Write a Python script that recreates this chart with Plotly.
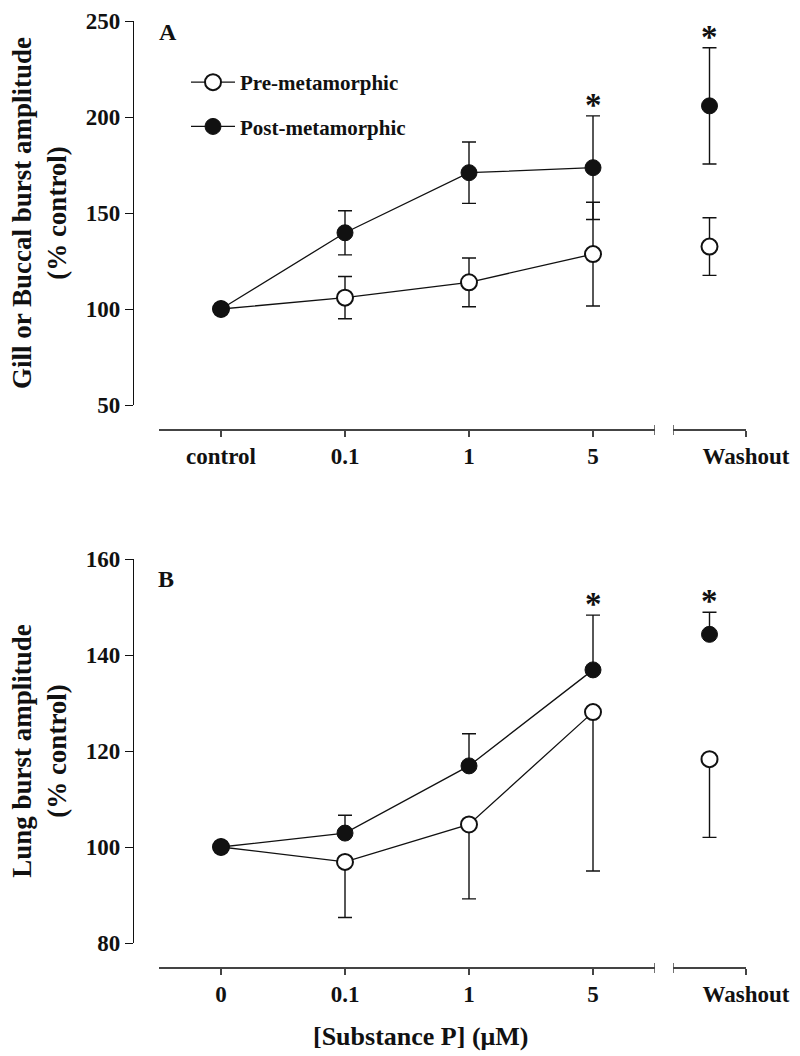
import plotly.graph_objects as go

# ---------------- data ----------------
doses_A = ["control", "0.1", "1", "5"]
doses_B = ["0", "0.1", "1", "5"]
washout_label = "Washout"

pre_A = [100, 105.9, 113.9, 128.6]
pre_A_sem = [0, 11.0, 12.7, 27.0]
pre_A_wash = [132.5]
pre_A_wash_sem = [15.0]
post_A = [100, 139.7, 171.0, 173.6]
post_A_sem = [0, 11.5, 16.0, 27.0]
post_A_wash = [205.8]
post_A_wash_sem = [30.3]

pre_B = [100, 96.9, 104.7, 128.1]
pre_B_sem = [0, 11.6, 15.5, 33.1]
pre_B_wash = [118.3]
pre_B_wash_sem = [16.3]
post_B = [100, 102.9, 116.9, 136.9]
post_B_sem = [0, 3.7, 6.7, 11.4]
post_B_wash = [144.3]
post_B_wash_sem = [4.6]

sig_index = 3  # the "5" dose carries an asterisk in both panels

# ---------------- geometry helpers ----------------
W, H = 800, 1056
def px(p):
    return p / W
def py(p):
    return 1 - p / H

FONT = "Liberation Serif"
BLACK = "#111111"
AXC = "#444444"

fig = go.Figure()

def add_series(x, y, err, errm, xa, ya, filled, name=None, show=False, group=None, mode="lines+markers"):
    marker = dict(size=16, color=BLACK if filled else "white",
                  line=dict(color=BLACK, width=2 if not filled else 1))
    if errm is None:
        ey = dict(type="data", array=err, visible=True, color=BLACK, thickness=1.4, width=7)
    else:
        ey = dict(type="data", symmetric=False, array=err, arrayminus=errm,
                  visible=True, color=BLACK, thickness=1.4, width=7)
    fig.add_trace(go.Scatter(
        x=x, y=y, mode=mode, xaxis=xa, yaxis=ya,
        line=dict(color=BLACK, width=1.3), marker=marker, error_y=ey,
        name=name, showlegend=show, legendgroup=group, cliponaxis=False))

# Panel A
add_series(doses_A, pre_A, pre_A_sem, None, "x", "y", False, "Pre-metamorphic", True, "pre")
add_series(doses_A, post_A, post_A_sem, None, "x", "y", True, "Post-metamorphic", True, "post")
add_series([0], pre_A_wash, pre_A_wash_sem, None, "x3", "y", False, mode="markers")
add_series([0], post_A_wash, post_A_wash_sem, None, "x3", "y", True, mode="markers")

# Panel B (one-sided error bars)
zeros4 = [0] * len(doses_B)
add_series(doses_B, pre_B, zeros4, pre_B_sem, "x2", "y2", False)
add_series(doses_B, post_B, post_B_sem, zeros4, "x2", "y2", True)
add_series([0], pre_B_wash, [0], pre_B_wash_sem, "x4", "y2", False, mode="markers")
add_series([0], post_B_wash, post_B_wash_sem, [0], "x4", "y2", True, mode="markers")

tickfont = dict(family=FONT, size=23, color=BLACK, weight="bold")
titlefont = dict(family=FONT, size=27, color=BLACK, weight="bold")

def xaxis_main(pos):
    return dict(type="category", domain=[px(159), px(655)], range=[-0.5, 3.5],
                anchor="free", position=pos, showline=True, linecolor=AXC, linewidth=1.5,
                ticks="outside", ticklen=6, tickwidth=1.5, tickcolor=AXC,
                tickfont=tickfont, showgrid=False, zeroline=False, automargin=False)

def xaxis_wash(pos):
    return dict(type="linear", domain=[px(673), px(746)], range=[-0.5, 0.5],
                anchor="free", position=pos, showline=True, linecolor=AXC, linewidth=1.5,
                ticks="outside", ticklen=6, tickwidth=1.5, tickcolor=AXC,
                tickvals=[0.5], ticktext=[washout_label],
                tickfont=tickfont, showgrid=False, zeroline=False, automargin=False)

def yaxis(dom, rng, dtick, title):
    return dict(domain=dom, range=rng, dtick=dtick, anchor="free", position=px(133),
                showline=True, linecolor=BLACK, linewidth=1.3, ticks="outside",
                ticklen=8, tickwidth=1.3, tickcolor=BLACK, tickfont=tickfont,
                showgrid=False, zeroline=False, automargin=False,
                title=dict(text=title, font=titlefont, standoff=10))

fig.update_layout(
    width=W, height=H, autosize=False,
    margin=dict(l=0, r=0, t=0, b=0),
    paper_bgcolor="white", plot_bgcolor="white",
    xaxis=xaxis_main(py(430)),
    xaxis3=xaxis_wash(py(430)),
    xaxis2=xaxis_main(py(968)),
    xaxis4=xaxis_wash(py(968)),
    yaxis=yaxis([py(405), py(21)], [50, 250], 50,
                "Gill or Buccal burst amplitude<br>(% control)"),
    yaxis2=yaxis([py(943), py(559)], [80, 160], 20,
                 "Lung burst amplitude<br>(% control)"),
    legend=dict(x=px(186), y=py(62), xanchor="left", yanchor="top",
                font=dict(family=FONT, size=21, color=BLACK, weight="bold"),
                bgcolor="rgba(0,0,0,0)", tracegroupgap=14, itemwidth=44),
    showlegend=True,
)

# axis break caps
shapes = []
for xa, ypos in (("x", 430), ("x2", 968)):
    shapes.append(dict(type="line", xref=xa, yref="paper", x0=3.5, x1=3.5,
                       y0=py(ypos - 5), y1=py(ypos + 5), line=dict(color=AXC, width=1.5)))
for xa, ypos in (("x3", 430), ("x4", 968)):
    shapes.append(dict(type="line", xref=xa, yref="paper", x0=-0.5, x1=-0.5,
                       y0=py(ypos - 5), y1=py(ypos + 5), line=dict(color=AXC, width=1.5)))
fig.update_layout(shapes=shapes)

ann = []
star = dict(family=FONT, size=33, color=BLACK, weight="bold")
# significance asterisks above upper error caps
ann.append(dict(x=sig_index, y=post_A[sig_index] + post_A_sem[sig_index], xref="x", yref="y",
                text="*", showarrow=False, font=star, yanchor="bottom", yshift=-9))
ann.append(dict(x=0, y=post_A_wash[0] + post_A_wash_sem[0], xref="x3", yref="y", text="*",
                showarrow=False, font=star, yanchor="bottom", yshift=-9))
ann.append(dict(x=sig_index, y=post_B[sig_index] + post_B_sem[sig_index], xref="x2", yref="y2",
                text="*", showarrow=False, font=star, yanchor="bottom", yshift=-9))
ann.append(dict(x=0, y=post_B_wash[0] + post_B_wash_sem[0], xref="x4", yref="y2", text="*",
                showarrow=False, font=star, yanchor="bottom", yshift=-9))
# panel letters
lab = dict(family=FONT, size=24, color=BLACK, weight="bold")
ann.append(dict(x=px(157), y=py(17), xref="paper", yref="paper", text="A", showarrow=False,
                font=lab, xanchor="left", yanchor="top"))
ann.append(dict(x=px(156), y=py(564), xref="paper", yref="paper", text="B", showarrow=False,
                font=lab, xanchor="left", yanchor="top"))
# x axis title
ann.append(dict(x=px(421), y=py(1036), xref="paper", yref="paper",
                text="[Substance P] (μM)", showarrow=False,
                font=dict(family=FONT, size=26, color=BLACK, weight="bold"),
                xanchor="center", yanchor="middle"))
fig.update_layout(annotations=ann)

fig.write_html(
    "out.html",
    config={"displayModeBar": False},
    post_script="document.body.style.margin='0';document.body.style.overflow='hidden';",
)
